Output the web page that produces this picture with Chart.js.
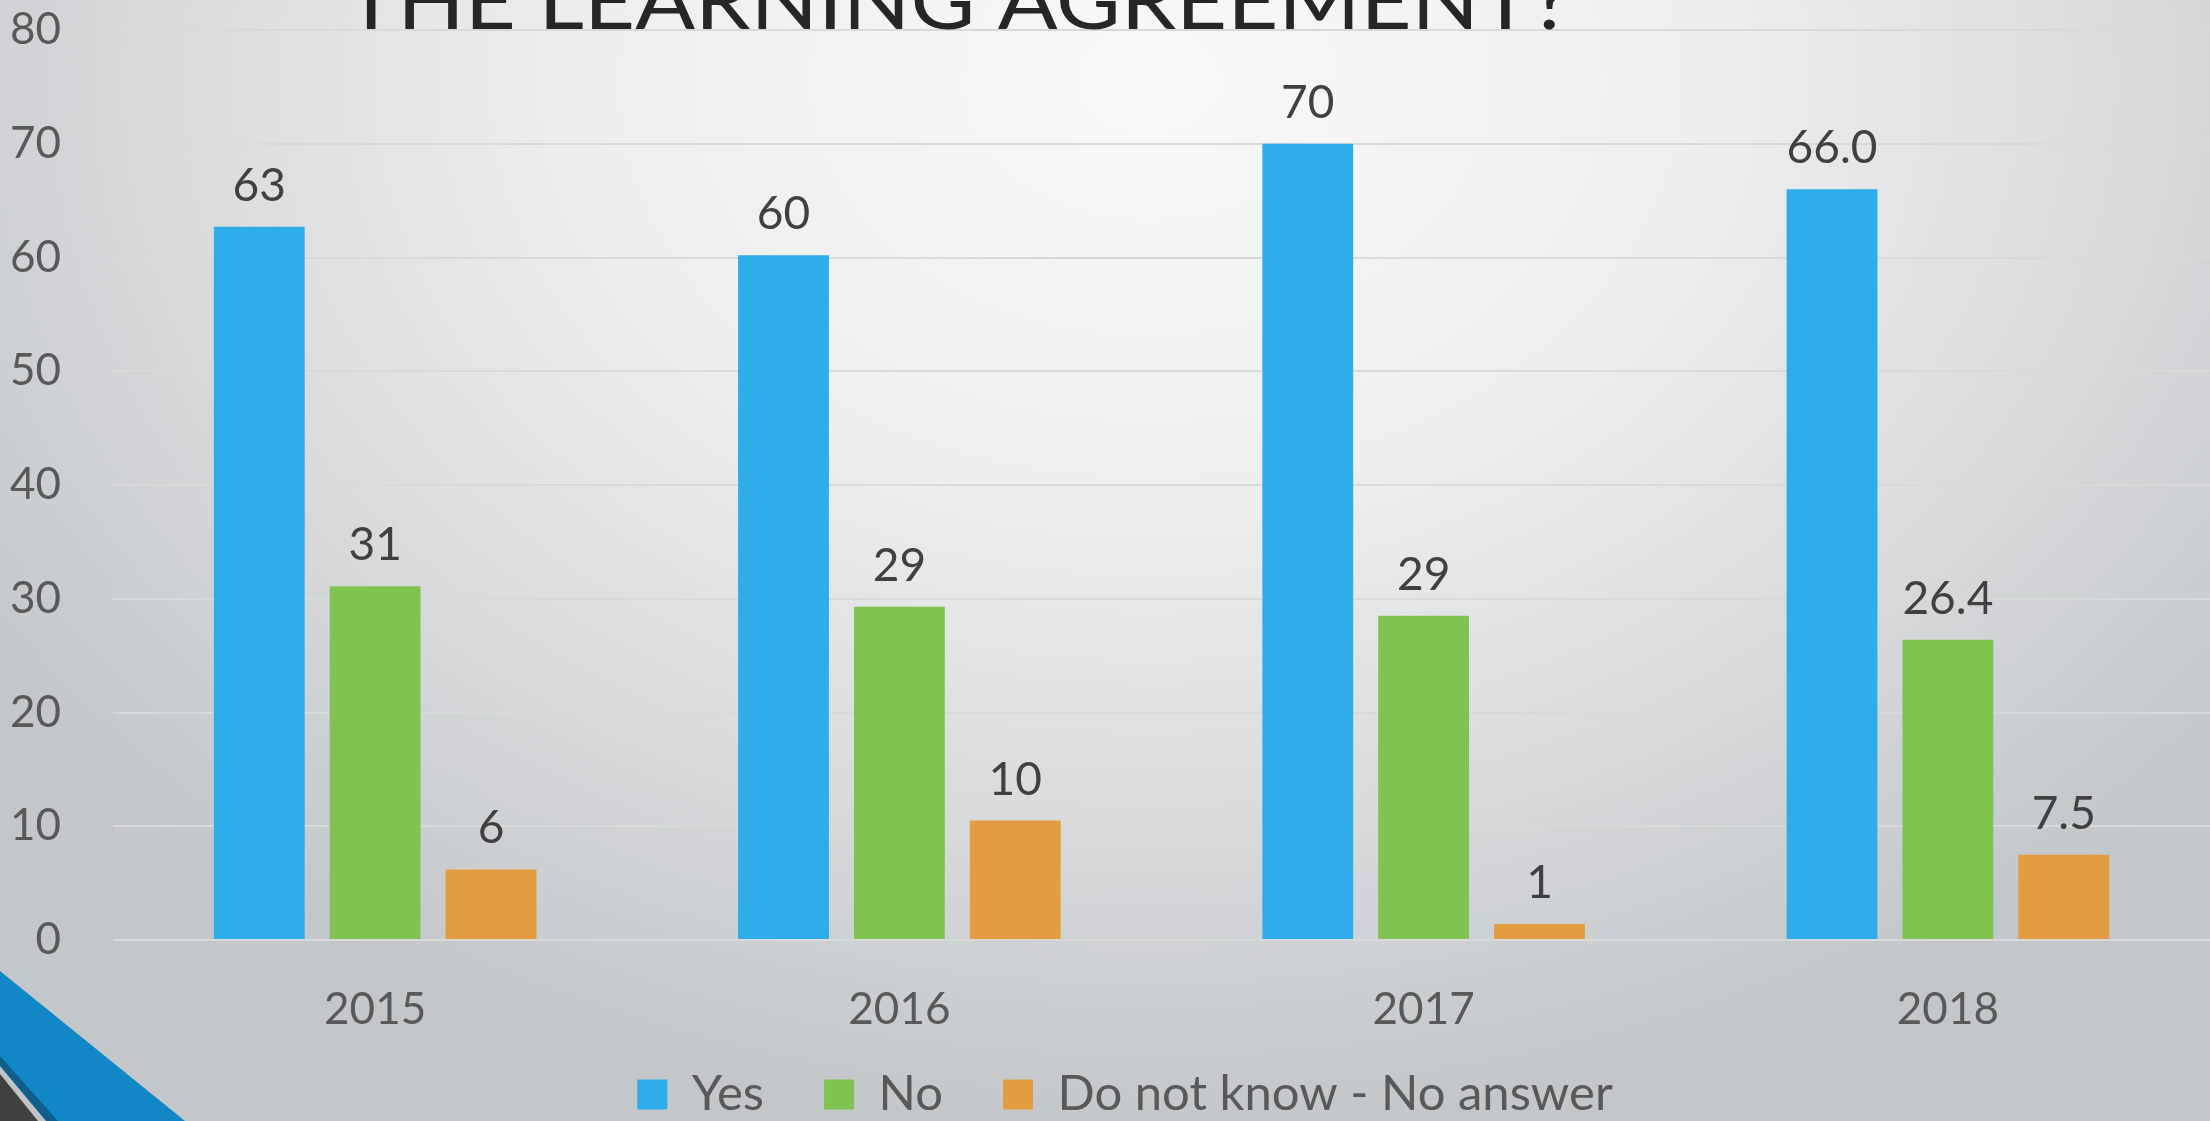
<!DOCTYPE html>
<html>
<head>
<meta charset="utf-8">
<script src="https://cdn.jsdelivr.net/npm/chart.js@4.4.1/dist/chart.umd.min.js"></script>
<style>
  html, body { margin: 0; padding: 0; overflow: hidden; background: #e6e7e8; }
  #wrap { width: 2210px; height: 1121px; position: relative; }
</style>
</head>
<body>
<div id="wrap"><canvas id="chart" width="2210" height="1121"></canvas></div>
<script>
// Kategorien und Werte
const categories = ['2015', '2016', '2017', '2018'];
const seriesNames = ['Yes', 'No', 'Do not know - No answer'];
const yesValues = [62.7, 60.2, 70.0, 66.0];
const noValues = [31.1, 29.3, 28.5, 26.4];
const dkValues = [6.2, 10.5, 1.4, 7.5];
// Beschriftungen über den Balken, wie im Original angezeigt
const yesLabels = ['63', '60', '70', '66.0'];
const noLabels = ['31', '29', '29', '26.4'];
const dkLabels = ['6', '10', '1', '7.5'];
const yMin = 0, yMax = 80, yStep = 10;
const titleText = 'THE LEARNING AGREEMENT?';

const FONT = 'Lato, "Open Sans", sans-serif';
const colors = ['rgb(47,172,234)', 'rgb(129,195,80)', 'rgb(226,157,64)'];

// Hintergrund mit Verlauf + Deko unten links
const backgroundPlugin = {
  id: 'bg',
  beforeDraw(chart) {
    const { ctx, width, height } = chart;
    ctx.save();
    ctx.translate(1150, 80);
    ctx.scale(1, 0.75);
    const g = ctx.createRadialGradient(0, 0, 0, 0, 0, 1400);
    g.addColorStop(0, '#f9f9f9');
    g.addColorStop(0.4, '#eeeeef');
    g.addColorStop(1, '#c3c7c9');
    ctx.fillStyle = g;
    ctx.fillRect(-1150, -80 / 0.75, width, height / 0.75 + 200);
    ctx.restore();

    const poly = (pts, fill) => {
      ctx.beginPath();
      pts.forEach(([x, y], i) => (i ? ctx.lineTo(x, y) : ctx.moveTo(x, y)));
      ctx.closePath();
      ctx.fillStyle = fill;
      ctx.fill();
    };
    ctx.save();
    poly([[0, 971], [185, height], [0, height]], '#1287c7');
    poly([[0, 1056], [58, height], [0, height]], '#0f5e8c');
    poly([[0, 1066], [46, height], [0, height]], '#c0c4c6');
    poly([[0, 1074], [38, height], [0, height]], '#404040');
    ctx.restore();
  }
};

// Legende etwas nach rechts/oben schieben (wie im Original)
const legendShiftPlugin = {
  id: 'legendShift',
  afterLayout(chart) {
    const lg = chart.legend;
    if (!lg) return;
    lg.left += 20; lg.right += 20;
    lg.top -= 30;
  }
};

// Titel oben (abgeschnitten wie im Original)
const titlePlugin = {
  id: 'slideTitle',
  afterDraw(chart) {
    const { ctx } = chart;
    ctx.save();
    ctx.font = '80px ' + FONT;
    const w = ctx.measureText(titleText).width;
    const target = 1226;
    ctx.translate(345, 29);
    ctx.scale(target / w, 1);
    ctx.fillStyle = '#262626';
    ctx.textBaseline = 'alphabetic';
    ctx.textAlign = 'left';
    ctx.fillText(titleText, 0, 0);
    ctx.restore();
  }
};

// Werte über den Balken
const valueLabelPlugin = {
  id: 'valueLabels',
  afterDatasetsDraw(chart) {
    const { ctx } = chart;
    ctx.save();
    ctx.font = '46px ' + FONT;
    ctx.fillStyle = '#404040';
    ctx.textAlign = 'center';
    ctx.textBaseline = 'alphabetic';
    chart.data.datasets.forEach((ds, i) => {
      chart.getDatasetMeta(i).data.forEach((bar, j) => {
        ctx.fillText(ds.valueLabels[j], bar.x, bar.y - 26);
      });
    });
    ctx.restore();
  }
};

const barOpts = { categoryPercentage: 0.663, barPercentage: 0.784, borderWidth: 0 };

new Chart(document.getElementById('chart'), {
  type: 'bar',
  data: {
    labels: categories,
    datasets: [
      { label: seriesNames[0], data: yesValues, valueLabels: yesLabels, backgroundColor: colors[0], ...barOpts },
      { label: seriesNames[1], data: noValues, valueLabels: noLabels, backgroundColor: colors[1], ...barOpts },
      { label: seriesNames[2], data: dkValues, valueLabels: dkLabels, backgroundColor: colors[2], ...barOpts }
    ]
  },
  options: {
    responsive: false,
    animation: false,
    devicePixelRatio: 1,
    layout: { padding: { top: 30, right: 0, bottom: 0, left: 0 } },
    scales: {
      x: {
        grid: { display: false },
        border: { display: false },
        ticks: { font: { family: FONT, size: 44 }, color: '#595959', padding: 35 },
        afterFit(scale) { scale.height = 100; }
      },
      y: {
        min: yMin,
        max: yMax,
        ticks: { stepSize: yStep, font: { family: FONT, size: 44 }, color: '#595959', padding: 52 },
        grid: { color: '#d9d9d9', lineWidth: 2, drawTicks: false },
        border: { display: false },
        afterFit(scale) {
          scale.width = 113;
          scale.paddingTop = 20;
          scale.paddingBottom = 20;
        }
      }
    },
    plugins: {
      legend: {
        position: 'bottom',
        maxHeight: 81,
        labels: {
          font: { family: FONT, size: 49 },
          color: '#595959',
          boxWidth: 30,
          boxHeight: 30,
          padding: 60
        }
      },
      tooltip: { enabled: false }
    }
  },
  plugins: [backgroundPlugin, legendShiftPlugin, valueLabelPlugin, titlePlugin]
});
</script>
</body>
</html>
